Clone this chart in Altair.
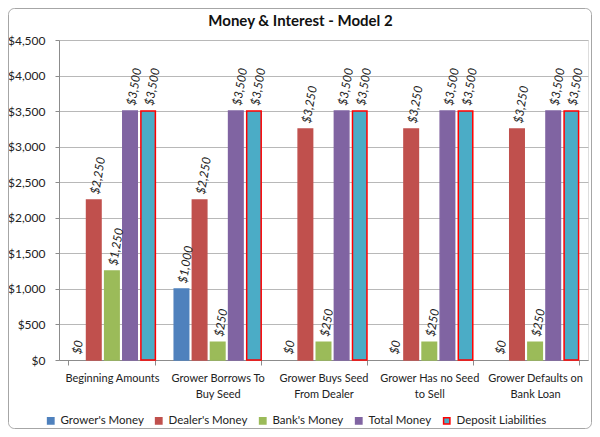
import altair as alt
import pandas as pd

categories = [
    "Beginning Amounts",
    "Grower Borrows To\nBuy Seed",
    "Grower Buys Seed\nFrom Dealer",
    "Grower Has no Seed\nto Sell",
    "Grower Defaults on\nBank Loan",
]
series = ["Grower's Money", "Dealer's Money", "Bank's Money", "Total Money", "Deposit Liabilities"]
growers_money = [0, 1000, 0, 0, 0]
dealers_money = [2250, 2250, 3250, 3250, 3250]
banks_money = [1250, 250, 250, 250, 250]
total_money = [3500, 3500, 3500, 3500, 3500]
deposit_liabilities = [3500, 3500, 3500, 3500, 3500]

fill_colors = ["#4F81BD", "#C0504D", "#9BBB59", "#8064A2", "#4BACC6"]
stroke_colors = ["#4F81BD", "#C0504D", "#9BBB59", "#8064A2", "#FF0000"]

rows = []
for s, vals in zip(series, [growers_money, dealers_money, banks_money, total_money, deposit_liabilities]):
    for c, v in zip(categories, vals):
        rows.append({"category": c, "series": s, "value": v})
df = pd.DataFrame(rows)

FONT = "Lato"
W, H = 529, 320
PL, PT, PR, PB = 51, 32, 4, 69

x = alt.X("category:N", sort=categories, title=None,
          scale=alt.Scale(paddingInner=0.178, paddingOuter=0.089),
          axis=alt.Axis(labelAngle=0, labelExpr="split(datum.label, '\\n')",
                        labelFontSize=11, labelLineHeight=16, labelPadding=7,
                        tickBand="extent", tickSize=5, domainColor="#8C8C8C",
                        tickColor="#8C8C8C", labelColor="#222", grid=False,
                        labelFont=FONT))
xo = alt.XOffset("series:N", sort=series, scale=alt.Scale(paddingInner=0.2, paddingOuter=0))
y = alt.Y("value:Q", title=None,
          scale=alt.Scale(domain=[0, 4500], nice=False),
          axis=alt.Axis(values=list(range(0, 4501, 500)), format="$,.0f",
                        labelFontSize=12, labelColor="#222", labelPadding=10,
                        tickSize=4, tickColor="#8C8C8C", domainColor="#8C8C8C",
                        gridColor="#B8B8B8", labelFont=FONT))

legend = alt.Legend(orient="none", legendX=-14, legendY=375, direction="horizontal",
                    columns=5, symbolType="square", symbolSize=40, symbolStrokeWidth=1.5,
                    labelFontSize=11.5, labelFont=FONT, labelColor="#222",
                    columnPadding=8, labelOffset=4, title=None)

base = alt.Chart(df)

bars = base.mark_bar(strokeWidth=1.5).encode(
    x=x, xOffset=xo, y=y,
    fill=alt.Fill("series:N", sort=series, legend=legend,
                  scale=alt.Scale(domain=series, range=fill_colors)),
    stroke=alt.Stroke("series:N", sort=series, legend=legend,
                      scale=alt.Scale(domain=series, range=stroke_colors)),
).transform_filter("datum.value > 0")

labels = base.mark_text(angle=280, align="left", baseline="middle", dx=6,
                        fontStyle="italic", fontSize=12, font=FONT, color="#222").encode(
    x=x, xOffset=xo, y=y,
    text=alt.Text("value:Q", format="$,.0f"),
)

border = alt.Chart(pd.DataFrame({"a": [0]})).mark_rect(
    filled=False, stroke="#A6A6A6", strokeWidth=1, cornerRadius=6).encode(
    x=alt.value(-PL + 0.5), x2=alt.value(W + PR - 0.5),
    y=alt.value(-PT + 0.5), y2=alt.value(H + PB - 0.5),
)

chart = alt.layer(bars, labels, border).properties(
    width=W, height=H,
    padding={"left": PL, "top": PT, "right": PR, "bottom": PB},
    autosize=alt.AutoSizeParams(type="none"),
    title=alt.TitleParams("Money & Interest - Model 2", font=FONT, fontSize=15,
                          fontWeight="bold", color="#111", dx=-23, dy=31, offset=10,
                          anchor="middle", frame="group"),
).configure_view(stroke=None).configure(background="white")

chart.save("out.html", embed_options={"renderer": "svg", "actions": False})
